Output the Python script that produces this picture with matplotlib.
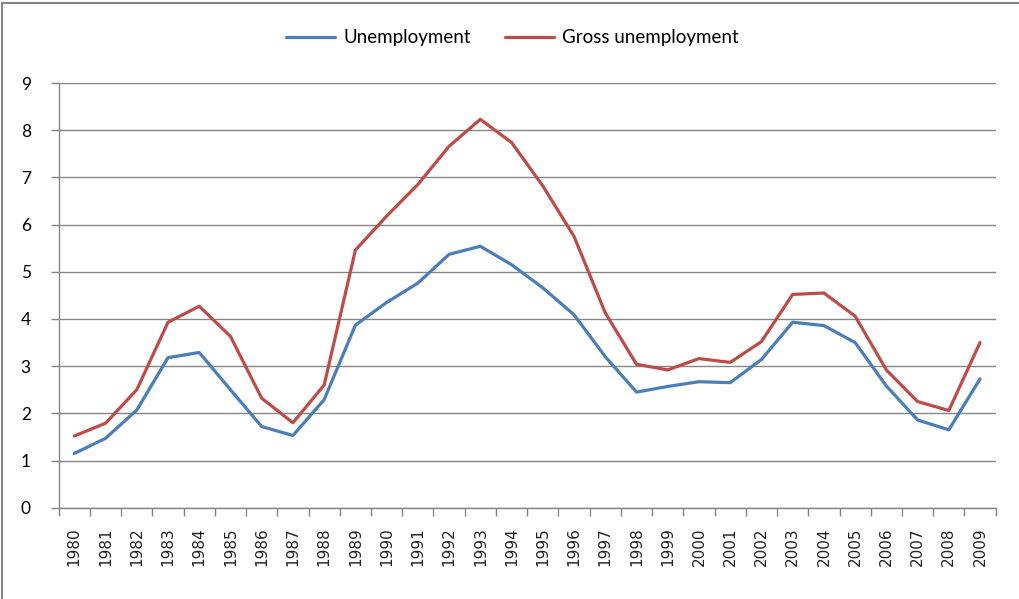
import matplotlib
matplotlib.use("Agg")
import matplotlib.pyplot as plt
from matplotlib.patches import Rectangle

years = [str(y) for y in range(1980, 2010)]
unemployment = [1.15, 1.47, 2.07, 3.18, 3.29, 2.50, 1.72, 1.53, 2.29, 3.87,
                4.35, 4.76, 5.37, 5.54, 5.15, 4.66, 4.09, 3.20, 2.45, 2.57,
                2.67, 2.65, 3.14, 3.93, 3.86, 3.50, 2.58, 1.86, 1.65, 2.73]
gross_unemployment = [1.52, 1.79, 2.50, 3.93, 4.27, 3.63, 2.32, 1.80, 2.60, 5.46,
                      6.18, 6.85, 7.66, 8.23, 7.74, 6.82, 5.75, 4.13, 3.04, 2.92,
                      3.16, 3.08, 3.52, 4.52, 4.55, 4.06, 2.92, 2.25, 2.06, 3.50]

grey = "#868686"

fig = plt.figure(figsize=(10.19, 5.99), dpi=100)
ax = fig.add_axes([0.0576, 0.1524, 0.9195, 0.709])

x = list(range(len(years)))
ax.plot(x, unemployment, color="#4A7EBB", lw=2.3, label="Unemployment", solid_capstyle="round")
ax.plot(x, gross_unemployment, color="#BE4B48", lw=2.3, label="Gross unemployment", solid_capstyle="round")

ax.set_xlim(-0.5, len(years) - 0.5)
ax.set_ylim(0, 9)
ax.set_yticks(range(10))
ax.set_yticklabels([str(v) for v in range(10)], fontfamily="Lato", fontsize=12.5)
ax.tick_params(axis="y", length=6, color=grey, width=1, pad=14)

# category boundaries as major ticks, labels at centres
ax.set_xticks([i - 0.5 for i in range(len(years) + 1)])
ax.set_xticklabels([])
ax.set_xticks(x, minor=True)
ax.set_xticklabels(years, minor=True, rotation=90, fontfamily="DejaVu Sans",
                   fontsize=11, color="#222222")
ax.tick_params(axis="x", which="major", length=6, color=grey, width=1)
ax.tick_params(axis="x", which="minor", length=0, pad=14)

ax.grid(True, axis="y", color=grey, lw=1)
ax.set_axisbelow(True)
for s in ["top", "right"]:
    ax.spines[s].set_visible(False)
for s in ["left", "bottom"]:
    ax.spines[s].set_color(grey)
    ax.spines[s].set_linewidth(1)

fig.legend(loc="center", bbox_to_anchor=(0.503, 1 - 38 / 599), ncol=2, frameon=False,
           prop={"family": "Lato", "size": 13.5}, handlelength=2.6,
           handletextpad=0.45, columnspacing=1.8)

# outer chart border (runs off the right and bottom edges)
fig.patches.append(Rectangle((2 / 1019, -0.05), 1.1, 1 - 3 / 599 + 0.05,
                             transform=fig.transFigure, fill=False,
                             edgecolor=grey, lw=1.5))

fig.savefig("out.png", dpi=100)
